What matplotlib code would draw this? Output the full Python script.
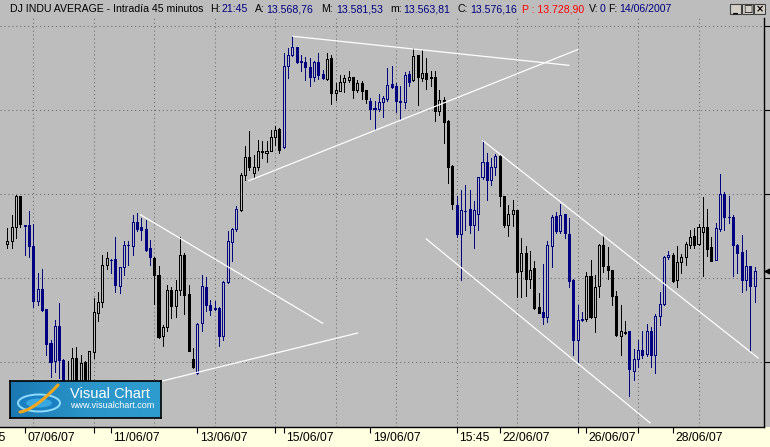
import matplotlib.pyplot as plt
from matplotlib.patches import Rectangle, Ellipse
from matplotlib.transforms import blended_transform_factory
import numpy as np

plt.rcParams['font.family'] = ['Liberation Sans', 'DejaVu Sans']

# DJ INDU AVERAGE, 45 minute bars (06/06/07 - 29/06/07)
opens = [13440.8, 13443.7, 13460.3, 13497.3, 13462.5, 13462.7, 13437.7, 13373.0, 13386.9, 13363.1,
         13322.6, 13300.8, 13342.5, 13302.7, 13260.7, 13266.7, 13304.8, 13269.0, 13300.0, 13275.0,
         13311.5, 13358.3, 13371.1, 13415.1, 13421.8, 13423.0, 13390.8, 13412.7, 13438.7, 13438.4,
         13466.7, 13460.3, 13458.7, 13435.7, 13423.8, 13403.9, 13330.6, 13341.3, 13386.1, 13366.3,
         13385.4, 13427.7, 13380.9, 13303.6, 13286.9, 13346.4, 13388.9, 13368.2, 13364.3, 13364.3,
         13331.3, 13394.9, 13442.5, 13458.7, 13480.6, 13522.3, 13543.7, 13525.0, 13531.8, 13550.8,
         13548.8, 13551.5, 13567.9, 13577.4, 13555.6, 13652.7, 13665.1, 13674.6, 13657.9, 13657.1,
         13650.8, 13639.3, 13657.1, 13642.8, 13637.3, 13661.9, 13620.6, 13623.0, 13632.9, 13636.1,
         13638.9, 13624.2, 13632.1, 13623.5, 13611.1, 13602.4, 13601.5, 13609.2, 13613.4, 13630.9,
         13628.2, 13610.8, 13609.2, 13642.8, 13635.4, 13665.1, 13638.1, 13644.0, 13639.3, 13638.9,
         13599.1, 13612.3, 13587.2, 13533.7, 13486.5, 13452.4, 13480.2, 13482.5, 13462.7, 13476.5,
         13519.9, 13537.7, 13517.0, 13531.8, 13545.6, 13497.3, 13462.7, 13476.5, 13480.6, 13407.9,
         13429.8, 13399.2, 13411.9, 13365.1, 13359.5, 13353.2, 13437.7, 13473.4, 13456.3, 13476.2,
         13452.4, 13398.0, 13325.8, 13350.6, 13351.5, 13402.7, 13353.2, 13390.1, 13438.9, 13413.9,
         13409.2, 13378.2, 13330.6, 13335.7, 13336.5, 13288.9, 13303.6, 13314.6, 13309.5, 13336.5,
         13308.7, 13355.1, 13369.4, 13424.6, 13427.0, 13398.0, 13418.7, 13424.6, 13439.6, 13449.6,
         13440.8, 13454.4, 13460.3, 13436.5, 13421.8, 13458.3, 13500.0, 13473.0, 13472.6, 13438.9,
         13430.6, 13397.2, 13413.9, 13390.1]
highs = [13459.5, 13474.6, 13499.2, 13498.0, 13463.0, 13479.4, 13464.6, 13405.9, 13411.1, 13363.5,
         13326.5, 13350.4, 13370.2, 13303.0, 13301.2, 13316.7, 13317.8, 13308.3, 13301.2, 13313.0,
         13376.2, 13383.3, 13427.7, 13430.6, 13422.3, 13448.8, 13413.0, 13443.7, 13443.7, 13475.4,
         13477.4, 13471.4, 13469.4, 13445.6, 13424.5, 13413.9, 13344.4, 13392.0, 13388.9, 13398.0,
         13448.4, 13429.8, 13392.0, 13316.7, 13346.0, 13403.2, 13400.8, 13374.2, 13373.0, 13365.0,
         13396.1, 13455.6, 13459.5, 13485.4, 13525.0, 13556.8, 13574.6, 13546.1, 13564.6, 13563.4,
         13563.4, 13575.8, 13580.6, 13578.0, 13667.9, 13673.8, 13687.7, 13675.0, 13665.8, 13662.7,
         13661.9, 13658.0, 13667.9, 13648.0, 13667.9, 13665.1, 13632.1, 13642.0, 13642.0, 13646.1,
         13639.5, 13636.1, 13634.9, 13624.0, 13614.3, 13610.4, 13619.0, 13616.3, 13650.0, 13652.0,
         13632.1, 13628.2, 13645.2, 13646.1, 13673.8, 13665.5, 13671.8, 13661.9, 13646.1, 13646.1,
         13624.2, 13615.1, 13587.5, 13534.0, 13497.3, 13505.1, 13511.1, 13504.4, 13491.3, 13520.5,
         13563.9, 13548.8, 13542.9, 13547.6, 13546.0, 13497.8, 13487.3, 13493.2, 13481.0, 13447.6,
         13437.7, 13431.8, 13419.9, 13382.1, 13416.6, 13443.7, 13474.6, 13478.2, 13488.1, 13476.5,
         13471.4, 13398.5, 13368.2, 13359.5, 13406.8, 13421.1, 13403.9, 13440.8, 13451.5, 13436.5,
         13409.5, 13384.9, 13367.5, 13348.4, 13337.0, 13315.5, 13326.5, 13336.5, 13345.2, 13341.3,
         13357.1, 13383.3, 13425.8, 13431.8, 13429.8, 13438.4, 13428.6, 13442.9, 13457.5, 13459.5,
         13464.3, 13496.0, 13482.1, 13448.4, 13465.5, 13523.8, 13502.4, 13497.9, 13475.4, 13440.5,
         13450.8, 13432.9, 13414.5, 13412.9]
lows = [13435.7, 13435.7, 13447.6, 13460.7, 13427.0, 13425.0, 13365.5, 13367.5, 13360.4, 13308.7,
        13281.8, 13287.7, 13280.9, 13254.8, 13254.8, 13260.7, 13264.3, 13263.1, 13266.7, 13269.0,
        13304.8, 13348.4, 13365.1, 13411.1, 13405.9, 13383.3, 13381.8, 13403.9, 13415.8, 13427.0,
        13455.6, 13445.6, 13431.8, 13415.8, 13369.0, 13328.6, 13318.7, 13337.3, 13352.4, 13353.2,
        13380.1, 13357.1, 13312.7, 13292.9, 13285.7, 13336.5, 13360.4, 13356.3, 13362.3, 13318.7,
        13326.5, 13394.0, 13419.9, 13455.6, 13479.4, 13517.0, 13528.9, 13519.0, 13528.9, 13542.9,
        13537.7, 13550.8, 13558.7, 13548.8, 13554.8, 13638.1, 13663.9, 13656.0, 13646.1, 13636.1,
        13628.2, 13634.2, 13637.3, 13637.3, 13636.1, 13607.1, 13612.3, 13622.3, 13621.4, 13633.3,
        13614.3, 13621.4, 13613.4, 13608.3, 13589.6, 13576.5, 13599.1, 13591.3, 13610.4, 13626.2,
        13597.6, 13589.6, 13602.4, 13628.2, 13634.9, 13606.3, 13634.2, 13625.4, 13628.2, 13586.5,
        13594.4, 13560.7, 13513.1, 13482.1, 13448.4, 13398.0, 13456.8, 13453.6, 13435.7, 13456.8,
        13518.2, 13493.2, 13510.4, 13523.0, 13486.1, 13460.3, 13449.6, 13461.5, 13377.0, 13377.0,
        13378.2, 13388.1, 13363.5, 13358.0, 13345.2, 13347.6, 13412.7, 13453.6, 13453.6, 13447.6,
        13388.9, 13308.0, 13300.0, 13349.2, 13348.4, 13352.4, 13335.3, 13377.0, 13407.1, 13399.2,
        13367.5, 13331.5, 13308.0, 13333.3, 13259.2, 13278.9, 13293.7, 13304.8, 13306.8, 13293.7,
        13286.9, 13344.4, 13367.5, 13423.0, 13395.2, 13388.9, 13405.9, 13415.1, 13435.7, 13435.7,
        13439.6, 13402.7, 13425.8, 13420.3, 13421.5, 13455.6, 13457.5, 13465.5, 13402.7, 13405.9,
        13383.0, 13386.1, 13313.4, 13371.4]
closes = [13443.7, 13460.3, 13497.3, 13464.6, 13461.5, 13438.4, 13373.0, 13386.9, 13362.3, 13321.8,
          13299.6, 13342.5, 13302.7, 13260.7, 13272.6, 13304.8, 13272.6, 13298.8, 13272.6, 13312.7,
          13359.2, 13371.1, 13415.1, 13423.8, 13421.0, 13392.0, 13412.7, 13438.9, 13439.5, 13466.7,
          13458.3, 13457.5, 13433.7, 13424.6, 13403.2, 13329.4, 13341.3, 13385.4, 13366.3, 13385.4,
          13427.0, 13379.4, 13313.4, 13294.0, 13345.2, 13390.1, 13368.2, 13362.3, 13363.6, 13331.3,
          13394.9, 13443.7, 13458.7, 13482.1, 13522.3, 13543.7, 13531.8, 13531.8, 13550.8, 13550.0,
          13551.5, 13567.9, 13575.8, 13552.7, 13652.7, 13665.8, 13674.6, 13657.1, 13657.0, 13651.2,
          13638.9, 13657.1, 13642.0, 13638.1, 13660.7, 13620.6, 13623.8, 13633.3, 13638.1, 13638.9,
          13623.5, 13632.1, 13623.0, 13613.1, 13601.5, 13601.6, 13609.2, 13614.3, 13630.1, 13627.7,
          13611.1, 13610.0, 13641.3, 13633.3, 13663.9, 13638.9, 13644.0, 13636.9, 13638.5, 13599.1,
          13611.5, 13585.7, 13532.1, 13488.4, 13452.4, 13480.6, 13479.8, 13462.7, 13480.6, 13519.9,
          13537.7, 13517.0, 13531.8, 13545.6, 13497.3, 13462.7, 13476.5, 13480.6, 13407.1, 13429.8,
          13399.2, 13409.2, 13364.3, 13358.3, 13353.2, 13438.9, 13472.6, 13456.3, 13475.4, 13453.6,
          13396.8, 13326.5, 13349.6, 13350.0, 13402.7, 13353.2, 13388.9, 13438.9, 13413.9, 13409.2,
          13378.2, 13331.8, 13336.5, 13335.0, 13292.0, 13303.6, 13314.6, 13308.7, 13336.5, 13308.7,
          13354.4, 13369.4, 13424.6, 13427.0, 13396.1, 13418.7, 13424.6, 13440.5, 13448.4, 13439.6,
          13460.7, 13460.3, 13434.9, 13420.6, 13459.5, 13500.0, 13472.6, 13472.2, 13439.6, 13429.8,
          13397.2, 13413.9, 13390.1, 13407.9]

# first bar of each session, sessions alternate black / navy
session_starts = [0, 4, 14, 24, 34, 44, 54, 64, 74, 84, 94, 104, 114, 124, 134, 144, 154, 164]

tick_bars = [4, 24, 44, 64, 84, 104, 114, 134, 154]
tick_labels = ['07/06/07', '11/06/07', '13/06/07', '15/06/07', '19/06/07',
               '15:45', '22/06/07', '26/06/07', '28/06/07']
minor_tick_bars = [20, 62, 132, 146]
price_grid = [13300, 13400, 13500, 13600, 13700]
grid_bars = [6, 20, 34, 48, 62, 76, 90, 104, 118, 132, 146, 160]

# hand drawn white trend lines: (bar, price, bar, price)
trend_lines = [
    (66.1, 13687.7, 130.0, 13653.2),
    (55.9, 13515.8, 132.0, 13671.8),
    (30.8, 13475.4, 73.0, 13346.1),
    (28.4, 13267.9, 81.1, 13334.5),
    (110.1, 13563.5, 173.8, 13304.8),
    (97.0, 13446.4, 148.8, 13227.4),
]

BG = '#bdbdbd'
NAVY = '#000080'

W, H = 770, 447
fig = plt.figure(figsize=(W / 100, H / 100), dpi=100, facecolor=BG)

# yellow date band
fig.patches.append(Rectangle((0, 0), 1, 20 / H, transform=fig.transFigure,
                             facecolor='#ffffe1', edgecolor='none', zorder=-5))

ax = fig.add_axes([0, 20 / H, 764 / W, 409 / H])
ax.set_facecolor(BG)
ax.set_xlim(-1.69, 175.16)
ax.set_ylim(13222.6, 13709.5)

for p in price_grid:
    ax.axhline(p, color='#6a6a6a', lw=0.75, ls=(0, (1, 2.8)), zorder=1)
for b in grid_bars:
    ax.axvline(b, color='#6a6a6a', lw=0.75, ls=(0, (1, 2.8)), zorder=1)

bw = 0.47
for i, (o, h, l, c) in enumerate(zip(opens, highs, lows, closes)):
    sess = np.searchsorted(session_starts, i, side='right') - 1
    col = NAVY if sess % 2 == 1 else 'black'
    ax.vlines(i, l, h, color=col, lw=0.72, zorder=2, antialiased=False)
    bottom = min(o, c)
    height = max(abs(c - o), 0.5)
    face = BG if c >= o else col
    ax.add_patch(Rectangle((i - bw / 2, bottom), bw, height, facecolor=face,
                           edgecolor=col, lw=0.72, zorder=3, antialiased=False))

for x0, y0, x1, y1 in trend_lines:
    ax.plot([x0, x1], [y0, y1], color='white', lw=0.9, zorder=4)

for s in ['top', 'left']:
    ax.spines[s].set_visible(False)
for s in ['right', 'bottom']:
    ax.spines[s].set_color('black')
    ax.spines[s].set_linewidth(1.0)

ax.yaxis.tick_right()
ax.set_yticks(price_grid)
ax.tick_params(axis='y', direction='out', length=4, width=0.8, colors='black',
               labelright=False)
ax.set_xticks(tick_bars)
ax.set_xticks(minor_tick_bars, minor=True)
ax.tick_params(axis='x', which='both', direction='out', length=4, width=0.8,
               colors='black', labelbottom=False)

trans = blended_transform_factory(ax.transData, ax.transAxes)
for b, lab in zip(tick_bars, tick_labels):
    ax.text(b + 0.6, -11 / 409, lab, transform=trans, ha='left', va='center',
            fontsize=8.8, color='black', clip_on=False, zorder=10)
fig.text(6 / W, 1 - 438 / H, '15:45', ha='right', va='center', fontsize=8.8)

# last price marker on the price axis
ax.plot([1.004], [closes[-1]], marker='<', ms=3.5, color='black',
        transform=blended_transform_factory(ax.transAxes, ax.transData),
        clip_on=False, zorder=5)

# title bar
title_parts = [
    (10, 'DJ INDU AVERAGE - Intradía 45 minutos', 'black'),
    (210, 'H:', 'black'), (222, '21:45', NAVY),
    (255, 'A:', 'black'), (266, '13.568,76', NAVY),
    (321, 'M:', 'black'), (336, '13.581,53', NAVY),
    (390, 'm:', 'black'), (403, '13.563,81', NAVY),
    (457, 'C:', 'black'), (470, '13.576,16', NAVY),
    (522, 'P : 13.728,90', 'red'),
    (589, 'V:', 'black'), (600, '0', NAVY),
    (608, 'F:', 'black'), (619, '14/06/2007', NAVY),
]
for x, txt, col in title_parts:
    fig.text(x / W, 1 - 9.5 / H, txt, ha='left', va='center', fontsize=7.6, color=col)

# window buttons
for k, sym in enumerate(['_', '□', '×']):
    x0 = 730 + k * 12
    fig.patches.append(Rectangle((x0 / W, 1 - 14 / H), 11 / W, 10 / H,
                                 transform=fig.transFigure, facecolor='#d4d0c8',
                                 edgecolor='#404040', lw=0.8))
    fig.text((x0 + 5.5) / W, 1 - 9 / H, sym, ha='center', va='center',
             fontsize=7, color='black', family='DejaVu Sans', weight='bold')

# Visual Chart logo
lg = fig.add_axes([10 / W, (H - 418) / H, 151 / W, 37 / H])
lg.set_xlim(10, 161)
lg.set_ylim(418, 381)
grad = np.linspace(0, 1, 64)[None, :]
lg.imshow(grad, cmap=plt.matplotlib.colors.LinearSegmentedColormap.from_list(
    'vc', ['#1a78b2', '#2b95c9', '#2f9ccf']), extent=(10, 161, 418, 381), aspect='auto')
lg.set_xticks([])
lg.set_yticks([])
for s in lg.spines.values():
    s.set_color('black')
    s.set_linewidth(1.2)
lg.add_patch(Ellipse((39, 403), 42, 17, facecolor='#1b80c2', edgecolor='#8fdcff', lw=1.4))
lg.add_patch(Ellipse((39, 403), 26, 9, facecolor='#3aa8e0', edgecolor='none'))
t = np.linspace(0, 1, 30)
lg.plot(20 + 38 * t, 412 - 27 * t ** 1.5, color='#f2a71e', lw=2.2, solid_capstyle='round')
lg.text(70, 394.5, 'Visual Chart', color='white', fontsize=10.5, ha='left', va='center')
lg.text(70, 406, 'www.visualchart.com', color='white', fontsize=6.5, ha='left', va='center')

fig.savefig('out.png', dpi=100, facecolor=BG)
